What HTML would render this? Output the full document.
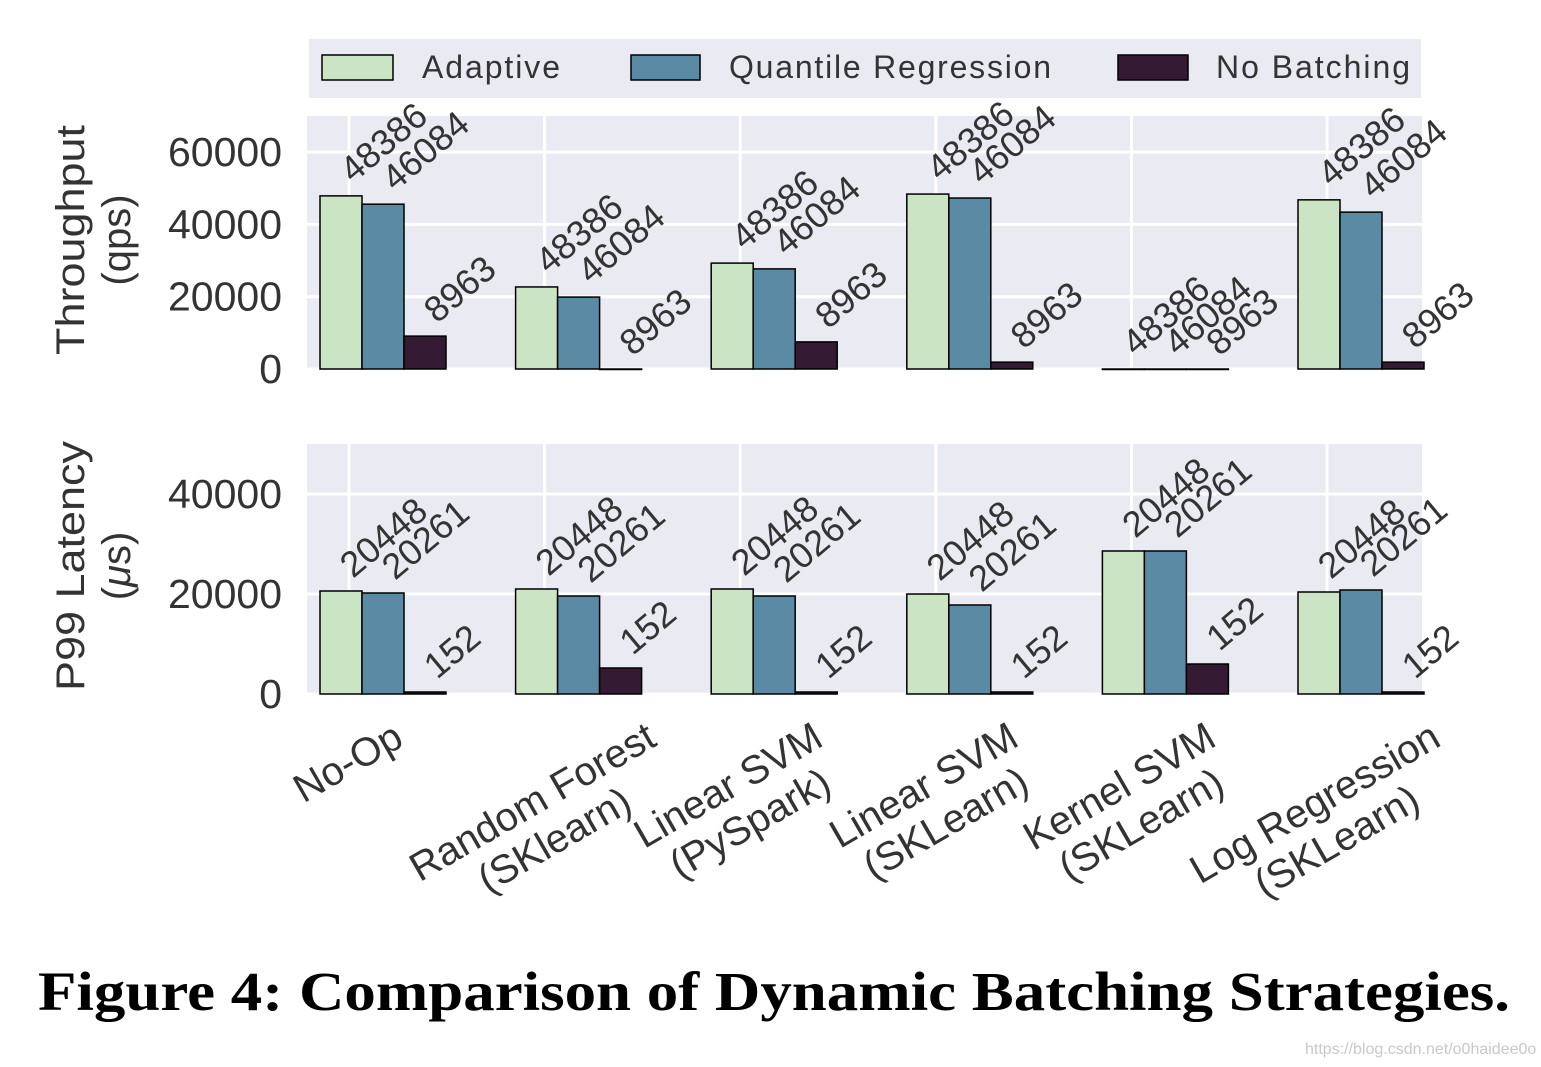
<!DOCTYPE html>
<html><head><meta charset="utf-8"><style>
html,body{margin:0;padding:0;background:#fff;}
svg{display:block;font-family:"Liberation Sans",Arial,sans-serif;}
</style></head><body>
<svg id="chart" width="1541" height="1067" viewBox="0 0 1541 1067" xmlns="http://www.w3.org/2000/svg">
<g>
<rect x="309" y="39" width="1112" height="59" fill="#eaeaf2"/>
<rect x="322" y="55" width="71" height="25" fill="#cbe4c4" stroke="#000" stroke-width="1.5"/>
<text x="422" y="78" font-size="32" fill="#333" textLength="138" lengthAdjust="spacing">Adaptive</text>
<rect x="631" y="55" width="69" height="25" fill="#5b8ba4" stroke="#000" stroke-width="1.5"/>
<text x="729" y="78" font-size="32" fill="#333" textLength="322" lengthAdjust="spacing">Quantile Regression</text>
<rect x="1118" y="55" width="70" height="25" fill="#341a33" stroke="#000" stroke-width="1.5"/>
<text x="1216" y="78" font-size="32" fill="#333" textLength="194" lengthAdjust="spacing">No Batching</text>
</g>
<g id="top"></g>
<g id="bot"></g>
<g id="xl"></g>
<text transform="translate(84,240) rotate(-90)" text-anchor="middle" font-size="40" fill="#333" textLength="230" lengthAdjust="spacingAndGlyphs">Throughput</text>
<text transform="translate(130,240) rotate(-90)" text-anchor="middle" font-size="40" fill="#333">(qps)</text>
<text transform="translate(84,566) rotate(-90)" text-anchor="middle" font-size="40" fill="#333" textLength="250" lengthAdjust="spacingAndGlyphs">P99 Latency</text>
<text transform="translate(130,566) rotate(-90)" text-anchor="middle" font-size="40" fill="#333">(<tspan font-style="italic">μ</tspan>s)</text>
<text x="38" y="1010" font-size="55" font-weight="bold" font-family="Liberation Serif,serif" textLength="1472" lengthAdjust="spacingAndGlyphs" fill="#000">Figure 4: Comparison of Dynamic Batching Strategies.</text>
<text x="1305" y="1054" font-size="16" fill="#c8c8c8">https://blog.csdn.net/o0haidee0o</text>
</svg>
<script>
const categories = [["No-Op"],["Random Forest","(SKlearn)"],["Linear SVM","(PySpark)"],["Linear SVM","(SKLearn)"],["Kernel SVM","(SKLearn)"],["Log Regression","(SKLearn)"]];
const seriesNames = ["Adaptive","Quantile Regression","No Batching"];
const thrAdaptive = [47900, 22700, 29300, 48400, 0, 46800];
const thrQuantile = [45600, 19900, 27700, 47300, 0, 43400];
const thrNoBatch = [9100, 0, 7500, 1900, 0, 1900];
const thrLabels = ["48386","46084","8963"];
const latAdaptive = [20600, 21000, 21000, 20000, 28600, 20400];
const latQuantile = [20200, 19600, 19600, 17800, 28600, 20800];
const latNoBatch = [400, 5200, 400, 400, 6000, 400];
const latLabels = ["20448","20261","152"];
const thrTicks = [0, 20000, 40000, 60000];
const latTicks = [0, 20000, 40000];

const NS = "http://www.w3.org/2000/svg";
const colors = ["#cbe4c4","#5b8ba4","#341a33"];
const x0 = 307, x1 = 1422, tick0 = 349, step = 195.6, barW = 42, barOff = -29;
function xTick(i){ return tick0 + i*step; }
function xBar(i,s){ return xTick(i) + barOff + s*barW; }
function mk(tag, attrs, parent){ const e=document.createElementNS(NS,tag); for(const k in attrs) e.setAttribute(k,attrs[k]); parent.appendChild(e); return e; }

function panel(g, yTop, yBot, vmax, ticks, series, labels, prefix){
  const y = v => yBot - (v/vmax)*(yBot-yTop);
  const bg = mk('rect',{x:x0,y:yTop,width:x1-x0,height:yBot-yTop,fill:'#eaeaf2'},g);
  
  
  ticks.forEach(t=>{
    const l = mk('line',{x1:x0,x2:x1,y1:y(t),y2:y(t),stroke:'#fff','stroke-width':3},g);
    
    
    const tx = mk('text',{x:282,y:y(t)+14,'text-anchor':'end','font-size':41,fill:'#333'},g);
    
    
    tx.textContent = t;
  });
  categories.forEach((c,i)=>{
    const l = mk('line',{x1:xTick(i),x2:xTick(i),y1:yTop,y2:yBot,stroke:'#fff','stroke-width':3},g);
    
    
  });
  series.forEach((vals,s)=>{
    vals.forEach((v,i)=>{
      const bx = xBar(i,s), by = y(v);
      const r = mk('rect',{x:bx,y:by,width:barW,height:Math.max(yBot-by,0.5),fill:colors[s],stroke:'#000','stroke-width':1.5},g);
      
      
    });
  });
  series.forEach((vals,s)=>{
    vals.forEach((v,i)=>{
      const ax = xBar(i,s)+barW/2+12, ay = y(v)-12;
      const t = mk('text',{x:0,y:0,'font-size':36,fill:'#333',transform:`translate(${ax},${ay}) rotate(-40)`},g);
      
      
      t.textContent = labels[s];
    });
  });
}
panel(document.getElementById('top'),116,369,70000,thrTicks,[thrAdaptive,thrQuantile,thrNoBatch],thrLabels,'throughput');
panel(document.getElementById('bot'),444,694,50000,latTicks,[latAdaptive,latQuantile,latNoBatch],latLabels,'latency');

const xl = document.getElementById('xl');
const ang = 30*Math.PI/180, lh = 44;
categories.forEach((lines,i)=>{
  const g = mk('g',{},xl);
  
  
  const H = lines.length*lh;
  const ts = lines.map((ln,k)=>{
    const t = mk('text',{x:0,y:-H/2+lh*k+lh*0.75,'text-anchor':'middle','font-size':40,fill:'#333'},g);
    
    
    t.textContent = ln; return t;
  });
  const W = Math.max(...ts.map(t=>t.getComputedTextLength()));
  const bh = W*Math.sin(ang)+H*Math.cos(ang);
  g.setAttribute('transform',`translate(${xTick(i)},${716+bh/2}) rotate(-30)`);
});
</script>
</body></html>
